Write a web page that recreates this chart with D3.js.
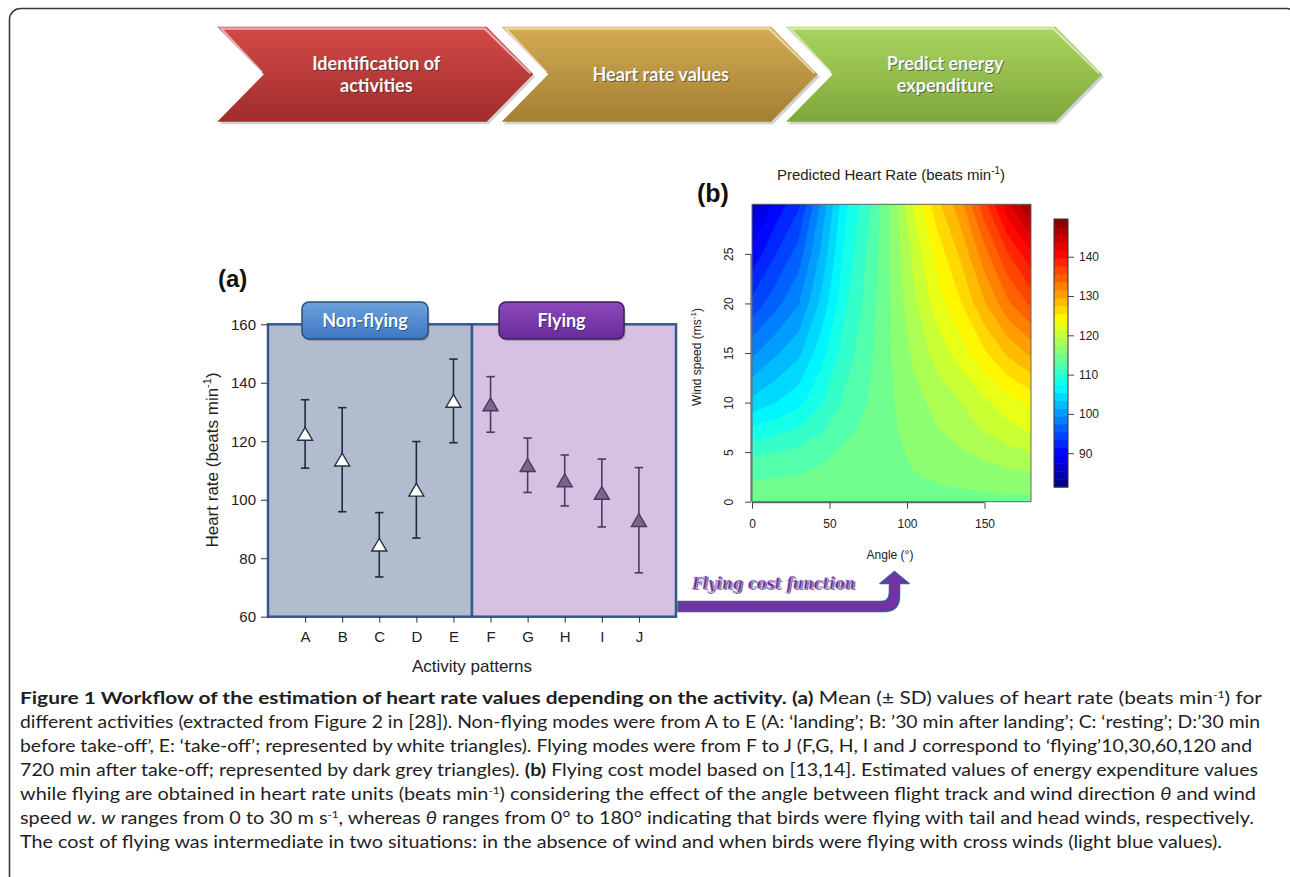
<!DOCTYPE html>
<html><head><meta charset="utf-8">
<script src="https://cdn.jsdelivr.net/npm/d3@7"></script>
<style>
body{margin:0;background:#fff;}
svg{display:block;}
</style>
</head><body>
<svg id="fig" width="1290" height="877"></svg>
<script>
// ---------------- DATA ----------------
const workflowSteps = [["Identification of","activities"],["Heart rate values"],["Predict energy","expenditure"]];
const categories = ["A","B","C","D","E","F","G","H","I","J"];
const hrMean = [122.5, 113.7, 84.6, 103.4, 133.8, 132.6, 111.8, 106.6, 102.3, 93.0];
const hrSD   = [11.7, 17.8, 11.0, 16.5, 14.3, 9.5, 9.3, 8.7, 11.6, 18.0];
const modeNames = ["Non-flying","Flying"];
const modeOfCategory = ["Non-flying","Non-flying","Non-flying","Non-flying","Non-flying","Flying","Flying","Flying","Flying","Flying"];
const hrTicks = [60,80,100,120,140,160];

const angles = [0,15,30,45,60,75,90,105,120,135,150,165,180];
const windSpeeds = [0,1,2.5,5,7.5,10,15,20,25,30];
const hrGridW0   = [115,115,115,115,115,115,115,115,115,115,115,115,115];
const hrGridW1   = [114.4,114.5,114.55,114.7,114.8,114.9,115,115.1,115.25,115.35,115.5,115.6,115.7];
const hrGridW2_5 = [113.2,113.4,113.65,114.1,114.5,114.8,115.1,115.4,115.7,116,116.4,116.7,117];
const hrGridW5   = [111,111.5,112,112.9,113.9,114.5,115,115.9,116.6,117.3,118.1,118.9,119.5];
const hrGridW7_5 = [107.5,108.5,109.4,111.1,112.9,114,115.2,116.4,117.5,118.5,119.8,121,122];
const hrGridW10  = [104,105.4,106.8,109.3,111.9,113.6,115.3,116.8,118.2,119.5,121.1,122.7,124];
const hrGridW15  = [99,101.1,103,106.7,110.5,112.9,115.5,118,120.4,122.5,125.2,127.9,130];
const hrGridW20  = [94,96.7,99.3,104.1,109.1,112.3,115.6,119.2,122.6,125.5,129.3,133.1,136];
const hrGridW25  = [90,93.3,96.3,102,108,111.8,115.8,120.2,124.4,128,132.7,137.4,141];
const hrGridW30  = [86,90,93,100,107,111,116,122,127,131,137,143,148];
const angleTicks = [0,50,100,150];
const windTicks = [0,5,10,15,20,25];
const colorbarTicks = [90,100,110,120,130,140];
const colorbarRange = [81.4, 149.6];
const nColorBands = 34;
const jetColors = ["#00007F","#0000FF","#007FFF","#00FFFF","#7FFF7F","#FFFF00","#FF7F00","#FF0000","#7F0000"];

const captionLines = [
  [{t:"Figure 1 Workflow of the estimation of heart rate values depending on the activity.",b:1},{t:" "},{t:"(a)",b:1},{t:" Mean (\u00b1 SD) values of heart rate (beats min"},{t:"-1",sup:1},{t:") for"}],
  [{t:"different activities (extracted from Figure 2 in [28]). Non-flying modes were from A to E (A: \u2018landing\u2019; B: \u201930 min after landing\u2019; C: \u2018resting\u2019; D:\u201930 min"}],
  [{t:"before take-off\u2019, E: \u2018take-off\u2019; represented by white triangles). Flying modes were from F to J (F,G, H, I and J correspond to \u2018flying\u201910,30,60,120 and"}],
  [{t:"720 min after take-off; represented by dark grey triangles). "},{t:"(b)",b:1},{t:" Flying cost model based on [13,14]. Estimated values of energy expenditure values"}],
  [{t:"while flying are obtained in heart rate units (beats min"},{t:"-1",sup:1},{t:") considering the effect of the angle between flight track and wind direction "},{t:"\u03b8",i:1},{t:" and wind"}],
  [{t:"speed "},{t:"w",i:1},{t:". "},{t:"w",i:1},{t:" ranges from 0 to 30 m s"},{t:"-1",sup:1},{t:", whereas "},{t:"\u03b8",i:1},{t:" ranges from 0\u00b0 to 180\u00b0 indicating that birds were flying with tail and head winds, respectively."}],
  [{t:"The cost of flying was intermediate in two situations: in the absence of wind and when birds were flying with cross winds (light blue values)."}]
];
const captionLineEnds = [1262,1260,1252,1258,1256,1254,1222];

// ---------------- DRAW ----------------
const svg = d3.select("#fig");
const defs = svg.append("defs");
function vGrad(id, c0, c1){
  const g = defs.append("linearGradient").attr("id",id).attr("x1",0).attr("y1",0).attr("x2",0).attr("y2",1);
  g.append("stop").attr("offset","0%").attr("stop-color",c0);
  g.append("stop").attr("offset","100%").attr("stop-color",c1);
}
vGrad("gRed","#d44a48","#a02c2c");
vGrad("gGold","#d3ab52","#a47f34");
vGrad("gGreen","#aad45e","#7fa83c");
vGrad("gBlue","#6da2de","#3d76c2");
vGrad("gPurple","#8c48bc","#6a2c9a");

// outer frame
svg.append("rect").attr("x",9.5).attr("y",8.5).attr("width",1288).attr("height",900).attr("rx",11)
  .attr("fill","none").attr("stroke","#3a3a3a").attr("stroke-width",1.6);

// --- workflow chevrons ---
const chevFills = ["url(#gRed)","url(#gGold)","url(#gGreen)"];
const chevX = d3.scaleLinear().domain([0,1]).range([217.3, 501.7]);
const chevY = 26.7, chevW = 316, chevH = 95, chevD = 46.6;
function chevron(x){
  return `M${x},${chevY} L${x+chevW-chevD},${chevY} L${x+chevW},${chevY+chevH/2} L${x+chevW-chevD},${chevY+chevH} L${x},${chevY+chevH} L${x+chevD},${chevY+chevH/2} Z`;
}
const chevG = svg.append("g");
workflowSteps.forEach((lines,i)=>{
  const x = chevX(i);
  chevG.append("path").attr("d",chevron(x+2)).attr("transform","translate(0,2.5)").attr("fill","#000").attr("opacity",0.18);
  chevG.append("path").attr("d",chevron(x)).attr("fill",chevFills[i]);
  chevG.append("path")
    .attr("d",`M${x+chevD-2},${chevY+chevH/2-2} L${x+4},${chevY+2} L${x+chevW-chevD-2},${chevY+2} L${x+chevW-3},${chevY+chevH/2-1}`)
    .attr("fill","none").attr("stroke","#fff").attr("stroke-opacity",0.55).attr("stroke-width",2.2);
  const cx = x + chevW/2 + 1;
  const ys = lines.length===2 ? [69.5, 92] : [81];
  lines.forEach((ln,k)=>{
    chevG.append("text").attr("x",cx+1).attr("y",ys[k]+1).attr("text-anchor","middle")
      .attr("font-family","Lato, 'Open Sans', sans-serif").attr("font-size",18).attr("font-weight",700)
      .attr("fill","#2a2a2a").attr("opacity",0.55).text(ln);
    chevG.append("text").attr("x",cx).attr("y",ys[k]).attr("text-anchor","middle")
      .attr("font-family","Lato, 'Open Sans', sans-serif").attr("font-size",18).attr("font-weight",700)
      .attr("fill","#f6f8fc").text(ln);
  });
});

// --- panel (a) ---
const gA = svg.append("g").attr("font-family","'Liberation Sans', Arial, sans-serif");
const xA = d3.scalePoint().domain(categories).range([268, 676]).padding(1);
const yA = d3.scaleLinear().domain([60,160]).range([616.7, 324.3]);
const splitX = (xA("E")+xA("F"))/2;
const modeBoxes = [
  {name:modeNames[0], x0:268, x1:splitX, fill:"#b1bdcf"},
  {name:modeNames[1], x0:splitX, x1:676, fill:"#d6c1e2"}
];
gA.selectAll("rect.mode").data(modeBoxes).join("rect").attr("class","mode")
  .attr("x",d=>d.x0).attr("y",yA(160)).attr("width",d=>d.x1-d.x0).attr("height",yA(60)-yA(160))
  .attr("fill",d=>d.fill).attr("stroke","#35598a").attr("stroke-width",2.5);

const axL = gA.append("g").attr("transform",`translate(268,0)`)
  .call(d3.axisLeft(yA).tickValues(hrTicks).tickSize(7).tickPadding(5));
axL.select(".domain").remove();
axL.selectAll("line").attr("stroke","#333");
axL.selectAll("text").attr("font-size",15).attr("fill","#222").attr("font-family","'Liberation Sans', Arial, sans-serif");
const axB = gA.append("g").attr("transform",`translate(0,${yA(60)})`)
  .call(d3.axisBottom(xA).tickSize(6));
axB.select(".domain").remove();
axB.selectAll("line").attr("stroke","#333");
axB.selectAll("text").attr("font-size",15).attr("fill","#222").attr("y",25).attr("dy",0)
  .attr("font-family","'Liberation Sans', Arial, sans-serif");

const labelBoxes = [
  {name:modeNames[0], x:302, w:126, fill:"url(#gBlue)", stroke:"#2a4c78"},
  {name:modeNames[1], x:499, w:125, fill:"url(#gPurple)", stroke:"#3c2256"}
];
labelBoxes.forEach(b=>{
  gA.append("rect").attr("x",b.x+1.5).attr("y",304).attr("width",b.w).attr("height",37).attr("rx",7)
    .attr("fill","#000").attr("opacity",0.2);
  gA.append("rect").attr("x",b.x).attr("y",302).attr("width",b.w).attr("height",37).attr("rx",7)
    .attr("fill",b.fill).attr("stroke",b.stroke).attr("stroke-width",1.5);
  gA.append("text").attr("x",b.x+b.w/2+1).attr("y",328).attr("text-anchor","middle")
    .attr("font-family","Lato, sans-serif").attr("font-weight",700).attr("font-size",18).attr("fill","#222").attr("opacity",0.5).text(b.name);
  gA.append("text").attr("x",b.x+b.w/2).attr("y",327).attr("text-anchor","middle")
    .attr("font-family","Lato, sans-serif").attr("font-weight",700).attr("font-size",18).attr("fill","#fbfbff").text(b.name);
});

const pts = categories.map((c,i)=>({c, m:hrMean[i], sd:hrSD[i], mode:modeOfCategory[i]}));
const errCol = d=> d.mode==="Flying" ? "#4b3a5e" : "#1e2b3c";
const eb = gA.selectAll("g.eb").data(pts).join("g").attr("class","eb");
eb.append("line").attr("x1",d=>xA(d.c)).attr("x2",d=>xA(d.c))
  .attr("y1",d=>yA(d.m+d.sd)).attr("y2",d=>yA(d.m-d.sd)).attr("stroke",errCol).attr("stroke-width",1.6);
eb.append("line").attr("x1",d=>xA(d.c)-4.2).attr("x2",d=>xA(d.c)+4.2)
  .attr("y1",d=>yA(d.m+d.sd)).attr("y2",d=>yA(d.m+d.sd)).attr("stroke",errCol).attr("stroke-width",1.6);
eb.append("line").attr("x1",d=>xA(d.c)-4.2).attr("x2",d=>xA(d.c)+4.2)
  .attr("y1",d=>yA(d.m-d.sd)).attr("y2",d=>yA(d.m-d.sd)).attr("stroke",errCol).attr("stroke-width",1.6);
eb.append("path")
  .attr("d",d=>{const x=xA(d.c), y=yA(d.m); return `M${x-7.5},${y+6.3} L${x+7.5},${y+6.3} L${x},${y-6.5} Z`;})
  .attr("fill",d=>d.mode==="Flying" ? "#77678b" : "#ffffff")
  .attr("stroke",d=>d.mode==="Flying" ? "#4a3a5e" : "#243044").attr("stroke-width",1.4);

gA.append("text").attr("x",218).attr("y",287).attr("font-size",24).attr("font-weight",700).attr("fill","#111").text("(a)");
gA.append("text").attr("x",472).attr("y",672).attr("text-anchor","middle").attr("font-size",17).attr("fill","#222").text("Activity patterns");
const yt = gA.append("text").attr("transform","translate(217.5,460) rotate(-90)").attr("text-anchor","middle")
  .attr("font-size",17).attr("fill","#222");
yt.append("tspan").text("Heart rate (beats min");
yt.append("tspan").attr("dy",-7).attr("font-size",11).text("-1");
yt.append("tspan").attr("dy",7).text(")");

// --- flying cost arrow ---
const arrowG = svg.append("g");
arrowG.append("path")
  .attr("d","M678,601.5 L881,601.5 Q889.5,601.5 889.5,592 L889.5,583.5 L880,583.5 L894.5,571.5 L909,583.5 L899.5,583.5 L899.5,596 Q899.5,611.5 884,611.5 L678,611.5 Z")
  .attr("fill","#7232a6").attr("stroke","#3d5d92").attr("stroke-width",1.5).attr("stroke-linejoin","round");
arrowG.append("text").attr("x",693.5).attr("y",590).attr("textLength",163).attr("lengthAdjust","spacingAndGlyphs")
  .attr("font-family","'DejaVu Serif', serif").attr("font-weight",700).attr("font-style","italic").attr("font-size",16)
  .attr("fill","#1a1a2a").attr("opacity",0.6).text("Flying cost function");
arrowG.append("text").attr("x",692).attr("y",588.5).attr("textLength",163).attr("lengthAdjust","spacingAndGlyphs")
  .attr("font-family","'DejaVu Serif', serif").attr("font-weight",700).attr("font-style","italic").attr("font-size",16)
  .attr("fill","#6b2aa8").attr("stroke","#d8ccf0").attr("stroke-width",0.5).text("Flying cost function");

// --- panel (b) ---
const gB = svg.append("g").attr("font-family","'Liberation Sans', Arial, sans-serif").attr("fill","#222");
const xB = d3.scaleLinear().domain([0,180]).range([752, 1031]);
const yB = d3.scaleLinear().domain([0,30]).range([501.7, 204.3]);
const jet = d3.scaleLinear().domain(jetColors.map((c,i)=>i/(jetColors.length-1))).range(jetColors).interpolate(d3.interpolateRgb);
const bandStep = (colorbarRange[1]-colorbarRange[0])/nColorBands;
const thresholds = d3.range(nColorBands).map(k=>colorbarRange[0]+k*bandStep);
const hrGrid = [hrGridW0,hrGridW1,hrGridW2_5,hrGridW5,hrGridW7_5,hrGridW10,hrGridW15,hrGridW20,hrGridW25,hrGridW30];
const flat = hrGrid.flat();
const nx = angles.length, ny = windSpeeds.length;
const angleOfIdx = d3.scaleLinear().domain(d3.range(nx)).range(angles);
const windOfIdx = d3.scaleLinear().domain(d3.range(ny)).range(windSpeeds);
const contours = d3.contours().size([nx,ny]).thresholds(thresholds)(flat);
const proj = d3.geoTransform({point:function(x,y){ this.stream.point(xB(angleOfIdx(x-0.5)), yB(windOfIdx(y-0.5))); }});
const pathGen = d3.geoPath(proj);
defs.append("clipPath").attr("id","plotClip").append("rect")
  .attr("x",xB(0)).attr("y",yB(30)).attr("width",xB(180)-xB(0)).attr("height",yB(0)-yB(30));
gB.append("g").attr("clip-path","url(#plotClip)").selectAll("path").data(contours).join("path")
  .attr("d",pathGen)
  .attr("fill",d=>jet((thresholds.indexOf(d.value)+0.5)/nColorBands))
  .attr("stroke",d=>jet((thresholds.indexOf(d.value)+0.5)/nColorBands)).attr("stroke-width",0.4);
gB.append("rect").attr("x",xB(0)).attr("y",yB(30)).attr("width",xB(180)-xB(0)).attr("height",yB(0)-yB(30))
  .attr("fill","none").attr("stroke","#666").attr("stroke-width",1);

const axBx = gB.append("g").attr("transform",`translate(0,${yB(0)+1})`)
  .call(d3.axisBottom(xB).tickValues(angleTicks).tickSize(6).tickSizeOuter(0));
axBx.select(".domain").attr("d",`M${xB(angleTicks[0])},0H${xB(angleTicks[angleTicks.length-1])}`).attr("stroke","#444");
axBx.selectAll("line").attr("stroke","#444");
axBx.selectAll("text").attr("font-size",12).attr("fill","#222").attr("y",17).attr("font-family","'Liberation Sans', Arial, sans-serif");
const axBy = gB.append("g").attr("transform",`translate(${xB(0)-1},0)`)
  .call(d3.axisLeft(yB).tickValues(windTicks).tickSize(6).tickSizeOuter(0));
axBy.select(".domain").attr("d",`M0,${yB(windTicks[0])}V${yB(windTicks[windTicks.length-1])}`).attr("stroke","#444");
axBy.selectAll("line").attr("stroke","#444");
axBy.selectAll("text").attr("font-size",12).attr("fill","#222").attr("font-family","'Liberation Sans', Arial, sans-serif")
  .attr("transform","rotate(-90)").attr("x",0).attr("y",-18).attr("dy",0).attr("text-anchor","middle");

gB.append("text").attr("x",697).attr("y",202).attr("font-size",25).attr("font-weight",700).attr("fill","#111").text("(b)");
const tt = gB.append("text").attr("x",891).attr("y",180).attr("text-anchor","middle").attr("font-size",15);
tt.append("tspan").text("Predicted Heart Rate (beats min");
tt.append("tspan").attr("dy",-6).attr("font-size",10).text("-1");
tt.append("tspan").attr("dy",6).text(")");
gB.append("text").attr("x",890).attr("y",559).attr("text-anchor","middle").attr("font-size",12).text("Angle (\u00b0)");
const wl = gB.append("text").attr("transform","translate(701,357) rotate(-90)").attr("text-anchor","middle").attr("font-size",12);
wl.append("tspan").text("Wind speed (ms");
wl.append("tspan").attr("dy",-5).attr("font-size",8).text("-1");
wl.append("tspan").attr("dy",5).text(")");

const cbY = d3.scaleLinear().domain(colorbarRange).range([487, 219]);
const cbX0 = 1054, cbW = 14;
gB.append("g").selectAll("rect").data(thresholds).join("rect")
  .attr("x",cbX0).attr("width",cbW)
  .attr("y",d=>cbY(d+bandStep)).attr("height",d=>cbY(d)-cbY(d+bandStep)+0.5)
  .attr("fill",(d,i)=>jet((i+0.5)/nColorBands));
gB.append("rect").attr("x",cbX0).attr("y",cbY(colorbarRange[1])).attr("width",cbW).attr("height",cbY(colorbarRange[0])-cbY(colorbarRange[1]))
  .attr("fill","none").attr("stroke","#333").attr("stroke-width",1);
const axCb = gB.append("g").attr("transform",`translate(${cbX0+cbW},0)`)
  .call(d3.axisRight(cbY).tickValues(colorbarTicks).tickSize(6).tickPadding(5));
axCb.select(".domain").remove();
axCb.selectAll("line").attr("stroke","#444");
axCb.selectAll("text").attr("font-size",12).attr("fill","#222").attr("font-family","'Liberation Sans', Arial, sans-serif");

// --- caption ---
const capX = 20;
const capG = svg.append("g").attr("font-family","Lato, 'Open Sans', sans-serif").attr("font-size",17).attr("fill","#1e1e1e");
captionLines.forEach((segs,li)=>{
  const y = 704 + li*24;
  const t = capG.append("text").attr("x",capX).attr("y",y)
    .attr("textLength",captionLineEnds[li]-capX).attr("lengthAdjust","spacingAndGlyphs");
  let shift = 0;
  segs.forEach(s=>{
    const ts = t.append("tspan").text(s.t);
    if (s.b) ts.attr("font-weight",700);
    if (s.i) ts.attr("font-style","italic");
    if (s.sup) { ts.attr("dy",-6).attr("font-size",10); shift = 6; }
    else if (shift) { ts.attr("dy",shift); shift = 0; }
  });
});
</script>
</body></html>
